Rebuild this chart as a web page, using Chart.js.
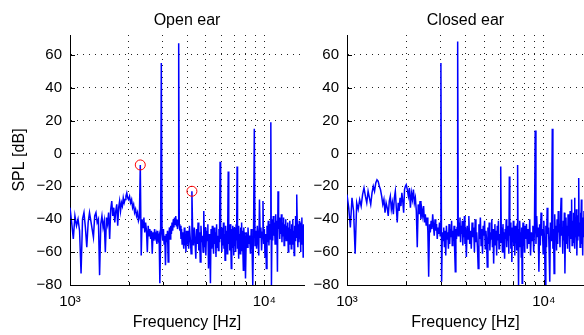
<!DOCTYPE html>
<html>
<head>
<meta charset="utf-8">
<script src="https://cdn.jsdelivr.net/npm/chart.js@4/dist/chart.umd.min.js"></script>
<style>
  body { margin: 0; background: #fff; }
  #wrap { position: relative; width: 584px; height: 335px; overflow: hidden; }
  canvas { position: absolute; top: 0; }
</style>
</head>
<body>
<div id="wrap">
  <canvas id="openChart" width="310" height="335" style="left:0"></canvas>
  <canvas id="closedChart" width="307" height="335" style="left:277px"></canvas>
</div>
<script>
// --- spectrum (frequency in Hz, level in dB SPL) ---
// frequency grid, split by band
const freqBand1 = [
  1000,1020,1040,1060,1080,1100,1120,1140,1160,1180,
  1200,1220,1240,1260,1280,1300,1320,1340,1360,1380,
  1400,1420,1440,1460,1480,1500,1520,1540,1560,1580,
  1600,1620,1640,1660,1680,1700,1720,1740,1760,1780,
  1800,1820,1840,1860,1880,1900,1920,1940,1960,1980,
  2000
];
const freqBand2 = [
  2025,2050,2075,2100,2125,2150,2175,2200,2225,2250,
  2275,2300,2325,2350,2375,2400,2425,2450,2475,2500,
  2525,2550,2575,2600,2625,2650,2675,2700,2725,2750,
  2775,2800,2825,2850,2875,2900,2925,2950,2975,3000,
  3025,3050,3075,3100,3125,3150,3175,3200,3225,3250,
  3275,3300,3325,3350,3375,3400,3425,3450,3475,3500,
  3525,3550,3575,3600,3625,3650,3675,3700,3725,3750,
  3775,3800,3825,3850,3875,3900,3925,3950,3975,4000
];
const freqBand3 = [
  4040,4080,4120,4160,4200,4240,4280,4320,4360,4400,
  4440,4480,4520,4560,4600,4640,4680,4720,4760,4800,
  4840,4880,4920,4960,5000,5040,5080,5120,5160,5200,
  5240,5280,5320,5360,5400,5440,5480,5520,5560,5600,
  5640,5680,5720,5760,5800,5840,5880,5920,5960,6000,
  6040,6080,6120,6160,6200,6240,6280,6320,6360,6400,
  6440,6480,6520,6560,6600,6640,6680,6720,6760,6800,
  6840,6880,6920,6960,7000,7040,7080,7120,7160,7200,
  7240,7280,7320,7360,7400,7440,7480,7520,7560,7600,
  7640,7680,7720,7760,7800,7840,7880,7920,7960,8000
];
const freqBand4 = [
  8080,8160,8240,8320,8400,8480,8560,8640,8720,8800,
  8880,8960,9040,9120,9200,9280,9360,9440,9520,9600,
  9680,9760,9840,9920,10000,10080,10160,10240,10320,10400,
  10480,10560,10640,10720,10800,10880,10960,11040,11120,11200,
  11280,11360,11440,11520,11600,11680,11760,11840,11920,12000,
  12080,12160,12240,12320,12400,12480,12560,12640,12720,12800,
  12880,12960,13040,13120,13200,13280,13360,13440,13520,13600,
  13680,13760,13840,13920,14000,14080,14160,14240,14320,14400,
  14480,14560,14640,14720,14800,14880,14960,15040,15120,15200,
  15280,15360,15440,15520,15600,15680,15760,15840,15920,16000
];

// open ear
const openBand1 = [
  -33,-42,-52,-38,-44,-40,-47,-73,-40,-36,
  -45,-57,-42,-36,-41,-46,-51,-38,-36,-42,
  -40,-74,-43,-38,-45,-41,-60,-39,-43,-36,
  -52,-34,-29,-38,-33,-42,-35,-31,-44,-33,
  -29,-35,-30,-32,-27,-30,-28,-26,-24,-27,
  -28
];
const openBand2 = [
  -26,-30,-28,-33,-31,-36,-34,-38,-36,-41,
  -39,-7,-62,-40,-45,-39,-48,-42,-47,-60,
  -44,-50,-46,-52,-47,-61,-48,-53,-46,-51,
  -49,-55,-47,-52,-50,-79,-54,55,-48,-53,
  -46,-55,-50,-68,-49,-54,-47,-66,-50,-45,
  -52,-44,-49,-42,-47,-40,-45,-39,-43,-38,
  -44,-40,-46,-41,67,-43,-47,-44,-52,-46,
  -55,-48,-53,-58,-45,-56,-50,-60,-47,-55
];
const openBand3 = [
  -47,-58,-44,-52,-61,-23,-49,-56,-45,-53,
  -64,-46,-55,-42,-59,-48,-66,-44,-54,-50,
  -60,-35,-57,-45,-62,-47,-53,-43,-70,-49,
  -56,-79,-46,-58,-44,-52,-61,-45,-55,-48,
  -63,-43,-57,-50,-59,-46,-54,-5,-52,-45,
  -60,-47,-56,-42,-58,-49,-65,-44,-53,-47,
  -61,-45,-11,-55,-48,-59,-43,-54,-70,-46,
  -57,-44,-52,-62,-45,-56,-48,-60,-43,-53,
  -8,-58,-46,-64,-44,-55,-49,-61,-45,-53,
  -42,-59,-47,-56,-71,-45,-54,-48,-60,-76
];
const openBand4 = [
  -48,-57,-45,-55,-50,-61,-46,-54,-80,-49,
  15,-56,-47,-58,-44,-53,-62,-28,-51,-45,
  -59,-48,-29,-55,-46,-63,-49,-70,-44,-54,
  -41,-56,-43,-52,19,-80,-40,-53,-38,-50,
  -42,-55,-37,-48,-41,-72,-23,-46,-39,-52,
  -40,-49,-37,-54,-42,-50,-39,-56,-43,-48,
  -40,-53,-44,-51,-42,-60,-45,-55,-41,-50,
  -46,-58,-43,-52,-40,-55,-47,-62,-44,-53,
  -38,-51,-45,-25,-49,-57,-43,-54,-41,-52,
  -46,-60,-42,-50,-39,-55,-44,-63,-43,-52
];

// closed ear
const closedBand1 = [
  -25,-33,-45,-27,-35,-61,-30,-34,-28,-32,
  -25,-21,-26,-30,-23,-27,-31,-24,-20,-23,
  -18,-16,-17,-20,-22,-26,-31,-28,-36,-30,
  -33,-38,-29,-26,-34,-30,-37,-27,-23,-33,
  -42,-30,-35,-27,-32,-24,-29,-36,-22,-20,
  -19
];
const closedBand2 = [
  -22,-26,-21,-33,-24,-28,-22,-30,-27,-35,
  -57,-31,-37,-29,-40,-34,-38,-32,-42,-37,
  -44,-39,-47,-75,-43,-48,-41,-46,-37,-44,
  -50,-40,-47,-43,-52,-45,-49,-42,-50,55,
  -78,-48,-53,-45,-57,-47,-62,-44,-52,-48,
  -58,-43,-55,-46,-51,-41,-56,-47,-53,-44,
  -60,-72,-46,-52,-45,68,-50,-42,-47,-39,
  -54,-44,-49,-41,-56,-46,-51,-38,-55,-45
];
const closedBand3 = [
  -63,-44,-52,-38,-55,-47,-58,-42,-51,-45,
  -60,-40,-54,-48,-57,-70,-43,-52,-39,-56,
  -46,-61,-44,-50,-41,-58,-47,-53,-69,-45,
  -55,-42,-59,-48,-52,-40,-57,-46,-67,-49,
  -43,-56,-47,-62,-44,-53,-41,-58,-49,-54,
  -8,-51,-45,-60,-43,-55,-48,-64,-46,-52,
  -40,-57,-47,-53,-44,-61,-14,-50,-42,-58,
  -46,-66,-45,-54,-41,-56,-48,-62,-44,-52,
  -47,-59,-43,-7,-55,-80,-46,-57,-41,-53,
  -48,-63,-45,-79,-50,-42,-56,-47,-60,-44
];
const closedBand4 = [
  -52,-43,-58,-46,-55,-40,-62,-48,-53,-44,
  -60,-47,14,-55,-38,-51,-45,-72,-43,-56,
  -36,-50,-46,-61,-41,-54,-80,-44,-57,-33,
  -49,-45,-60,-78,-42,-53,-39,15,-58,-46,
  -73,-37,-52,-44,-59,-40,-55,-35,-48,-43,
  -57,-38,-27,-50,-45,-61,-41,-53,-36,-73,
  -47,-39,-55,-44,-58,-37,-50,-42,-60,-35,
  -52,-46,-28,-56,-41,-54,-36,-49,-27,-58,
  -43,-51,-34,-62,-45,-53,-38,-15,-50,-42,
  -57,-36,-48,-28,-55,-44,-62,-39,-51,-35
];

// circled harmonics (open ear only)
const markFreq = [2300, 4240];
const markSpl = [-7, -23];

// axis ticks
const freqTicks = [1000,2000,3000,4000,5000,6000,7000,8000,9000,10000];
const majorFreq = [1000, 10000];
const majorLabels = ['10\u00B3', '10\u2074'];

const freqHz = [].concat(freqBand1, freqBand2, freqBand3, freqBand4);
const openSpl = [].concat(openBand1, openBand2, openBand3, openBand4);
const closedSpl = [].concat(closedBand1, closedBand2, closedBand3, closedBand4);

Chart.defaults.font.family = '"Liberation Sans", Arial, sans-serif';
Chart.defaults.color = '#000';

// matlab-style inward tick marks + panel title centred over the plot box
const panelDecor = {
  id: 'panelDecor',
  afterDraw(chart, args, opts) {
    const {ctx, chartArea: a, scales: {x, y}} = chart;
    ctx.save();
    ctx.strokeStyle = '#000';
    ctx.lineWidth = 1;
    ctx.beginPath();
    x.ticks.forEach(t => {
      const px = Math.round(x.getPixelForValue(t.value)) + 0.5;
      const len = majorFreq.includes(t.value) ? 5 : 3;
      ctx.moveTo(px, a.bottom);
      ctx.lineTo(px, a.bottom - len);
    });
    y.ticks.forEach(t => {
      const py = Math.round(y.getPixelForValue(t.value)) + 0.5;
      ctx.moveTo(a.left, py);
      ctx.lineTo(a.left + 5, py);
    });
    ctx.stroke();
    ctx.font = '16px "Liberation Sans", Arial, sans-serif';
    ctx.fillStyle = '#000';
    ctx.textAlign = 'center';
    ctx.textBaseline = 'alphabetic';
    ctx.fillText(opts.text, (a.left + a.right) / 2, 25);
    ctx.restore();
  }
};

function makePanel(id, title, spl, showYTitle, mFreq, mSpl, padRight) {
  const datasets = [{
    data: freqHz.map((f, i) => ({x: f, y: spl[i]})),
    borderColor: '#0000ff',
    borderWidth: 1.5,
    pointRadius: 0,
    order: 1
  }];
  if (mFreq.length) {
    datasets.push({
      data: mFreq.map((f, i) => ({x: f, y: mSpl[i]})),
      showLine: false,
      pointRadius: 5,
      pointBorderWidth: 1,
      pointBorderColor: '#ff0000',
      pointBackgroundColor: 'rgba(0,0,0,0)',
      order: 0
    });
  }
  const gridOpts = {color: '#222', lineWidth: 1, drawTicks: false};
  const borderOpts = {display: true, color: '#000', width: 1, dash: [1, 5]};
  return new Chart(document.getElementById(id), {
    type: 'line',
    data: {datasets},
    plugins: [panelDecor],
    options: {
      responsive: false,
      animation: false,
      events: [],
      layout: {padding: {top: 35, right: padRight, bottom: 0, left: 0}},
      plugins: {
        legend: {display: false},
        tooltip: {enabled: false},
        panelDecor: {text: title}
      },
      scales: {
        x: {
          type: 'logarithmic',
          min: 1000,
          max: 16000,
          afterBuildTicks: s => { s.ticks = freqTicks.map(v => ({value: v})); },
          afterFit: s => { s.height = 50; },
          grid: gridOpts,
          border: borderOpts,
          ticks: {
            autoSkip: false, maxRotation: 0, padding: 8,
            font: {size: 15},
            callback: v => {
              const k = majorFreq.indexOf(v);
              return k >= 0 ? majorLabels[k] : '';
            }
          },
          title: {display: true, text: 'Frequency [Hz]', font: {size: 16}, padding: {top: 0, bottom: 3}}
        },
        y: {
          min: -80,
          max: 72,
          afterFit: s => { s.width = 70; },
          grid: gridOpts,
          border: borderOpts,
          ticks: {
            stepSize: 20, includeBounds: false, padding: 8,
            font: {size: 15},
            callback: v => v < 0 ? '\u2212' + Math.abs(v) : String(v)
          },
          title: {display: showYTitle, text: 'SPL [dB]', font: {size: 16}, padding: {top: 10, bottom: 0}}
        }
      }
    }
  });
}

makePanel('openChart', 'Open ear', openSpl, true, markFreq, markSpl, 2);
makePanel('closedChart', 'Closed ear', closedSpl, false, [], [], 0);
</script>
</body>
</html>
